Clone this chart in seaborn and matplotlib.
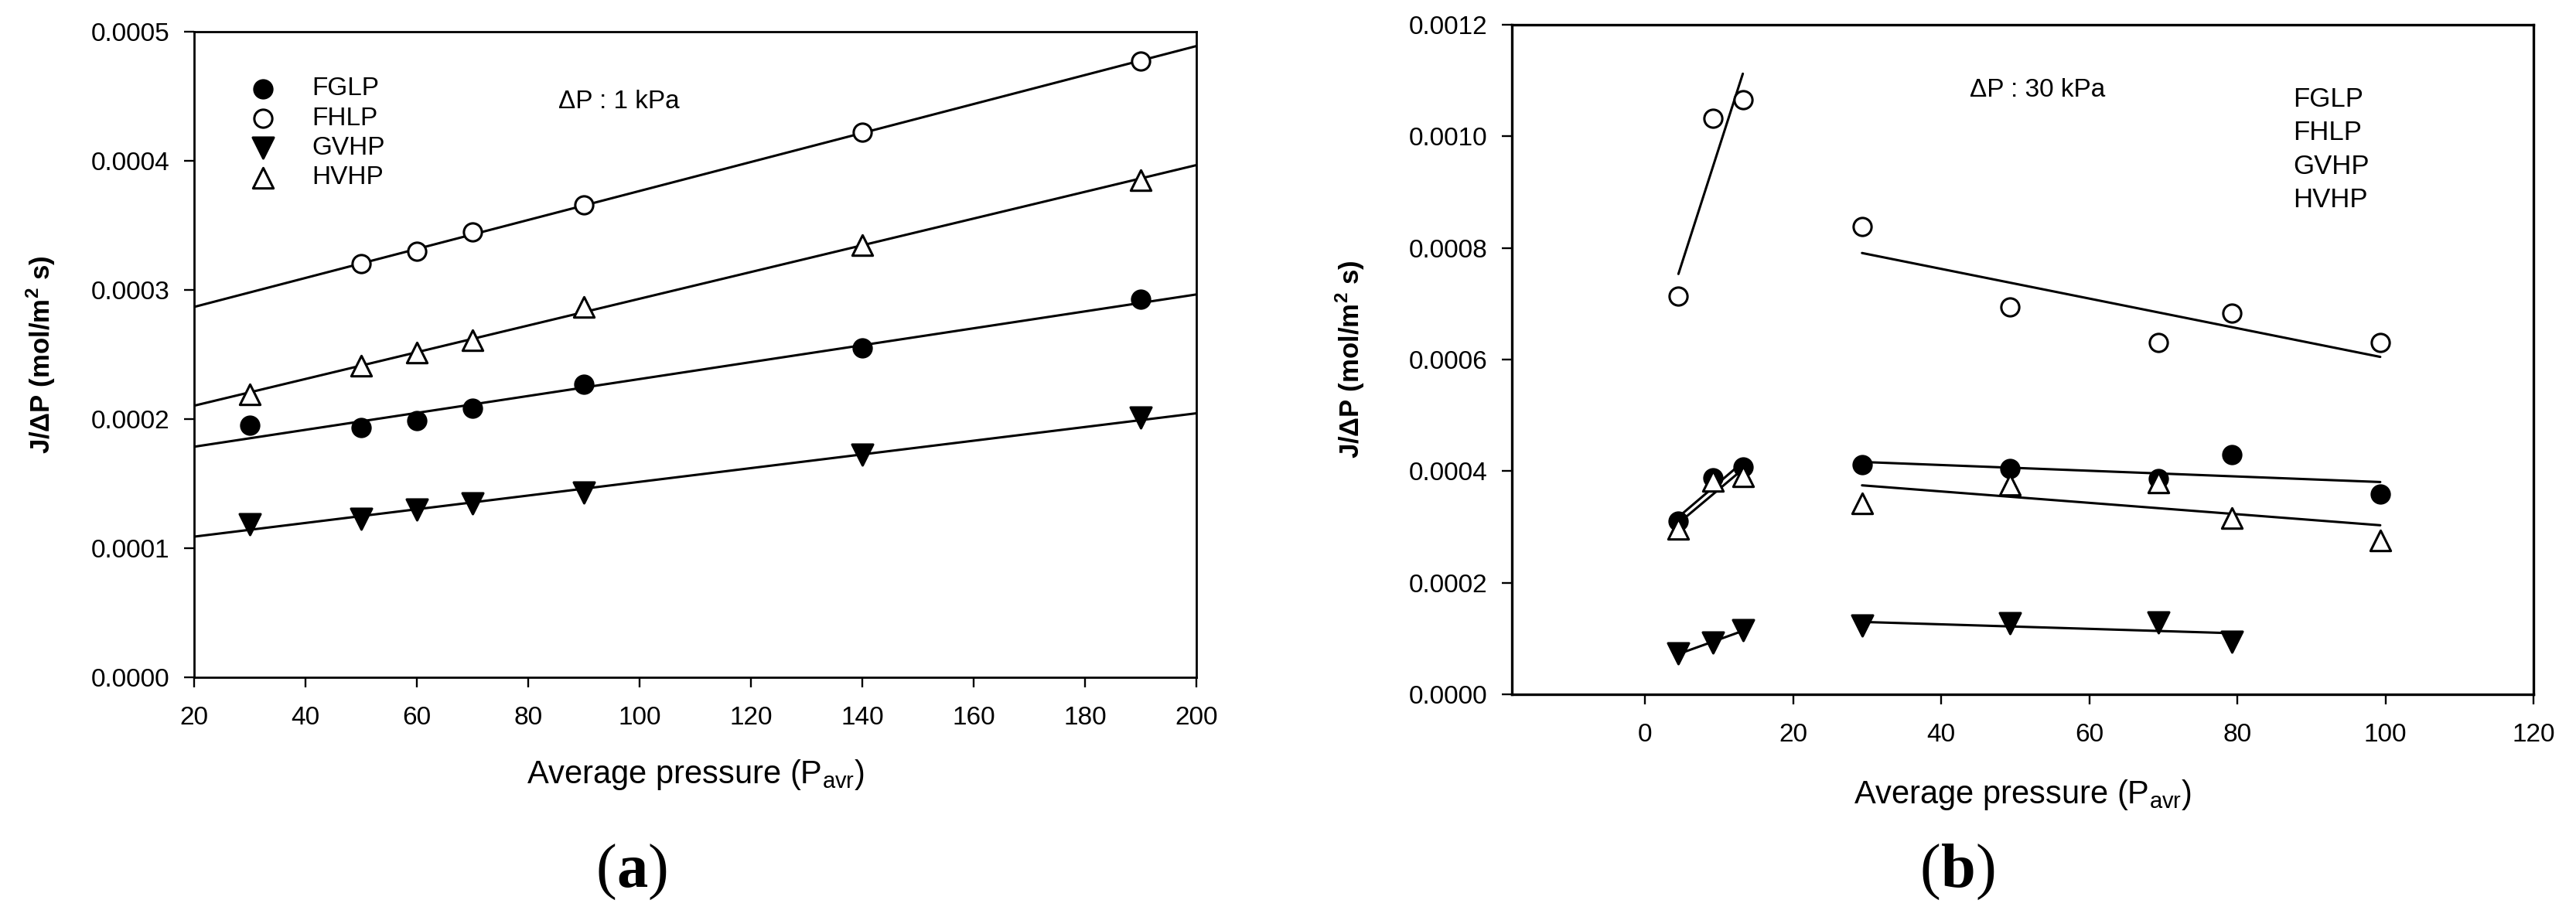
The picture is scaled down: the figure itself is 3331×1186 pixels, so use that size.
import numpy as np
import seaborn as sns
import matplotlib.pyplot as plt
from matplotlib.ticker import FormatStrFormatter, MultipleLocator
from matplotlib.offsetbox import TextArea, HPacker, AnchoredOffsetbox

# ---- panel (a): dP = 1 kPa ----
p_a = [30, 50, 60, 70, 90, 140, 190]
p_a_fhlp = [50, 60, 70, 90, 140, 190]
fglp_a = [0.0001952, 0.0001935, 0.000199, 0.0002086, 0.0002268, 0.0002553, 0.0002928]
fhlp_a = [0.0003206, 0.0003299, 0.0003447, 0.0003656, 0.000422, 0.0004773]
gvhp_a = [0.0001186, 0.0001227, 0.0001302, 0.0001347, 0.0001433, 0.0001722, 0.000201]
hvhp_a = [0.0002189, 0.0002416, 0.0002515, 0.0002612, 0.0002869, 0.000335, 0.0003849]

# ---- panel (b): dP = 30 kPa, two pressure regimes ----
p_b_low = [4.5, 9.2, 13.2]
p_b_high = [29.3, 49.3, 69.3, 79.3, 99.3]
p_b_high_gvhp = [29.3, 49.3, 69.3, 79.3]
fglp_b_low = [0.00031, 0.000388, 0.000407]
fglp_b_high = [0.000411, 0.000404, 0.000387, 0.000429, 0.000359]
fhlp_b_low = [0.000714, 0.001033, 0.001066]
fhlp_b_high = [0.000838, 0.000694, 0.000631, 0.000683, 0.00063]
gvhp_b_low = [0.0000733, 0.0000924, 0.000115]
gvhp_b_high = [0.000123, 0.000128, 0.000129, 0.0000948]
hvhp_b_low = [0.000296, 0.000382, 0.000391]
hvhp_b_high = [0.000342, 0.000375, 0.00038, 0.000316, 0.000276]

names = ["FGLP", "FHLP", "GVHP", "HVHP"]
styles = {
    "FGLP": dict(marker="o", face="black", s=70),
    "FHLP": dict(marker="o", face="white", s=70),
    "GVHP": dict(marker="v", face="black", s=95),
    "HVHP": dict(marker="^", face="white", s=90),
}

sns.set_style("ticks", {"axes.edgecolor": "black", "xtick.color": "black",
                        "ytick.color": "black", "text.color": "black",
                        "axes.labelcolor": "black"})
plt.rcParams['font.family'] = ['Liberation Sans', 'DejaVu Sans']
plt.rcParams['mathtext.fontset'] = 'custom'
plt.rcParams['mathtext.rm'] = 'Liberation Sans'
plt.rcParams['mathtext.bf'] = 'Liberation Sans:bold'


def draw(ax, x, y, name, truncate=True, label=None):
    st = styles[name]
    skw = dict(s=st["s"], facecolors=st["face"], edgecolors="black",
               linewidths=1.1, alpha=1, zorder=3)
    sns.regplot(x=np.array(x), y=np.array(y), ax=ax, ci=None, truncate=truncate,
                color="black", marker=st["marker"], label=label, scatter_kws=skw,
                line_kws=dict(lw=1.1, zorder=2))


def style_axes(ax, lw):
    for sp in ax.spines.values():
        sp.set_visible(True)
        sp.set_linewidth(lw)
    ax.tick_params(direction="out", length=4.7, width=0.85, labelsize=12)
    ax.tick_params(axis="x", pad=8.6)
    ax.tick_params(axis="y", pad=6.8)
    ax.yaxis.set_major_formatter(FormatStrFormatter("%.4f"))


def panel_tag(fig, letter, x, y):
    parts = [TextArea("(", textprops=dict(family="Liberation Serif", size=29)),
             TextArea(letter, textprops=dict(family="Liberation Serif", size=29,
                                             weight="bold")),
             TextArea(")", textprops=dict(family="Liberation Serif", size=29))]
    box = AnchoredOffsetbox(loc="center", child=HPacker(children=parts, pad=0, sep=0),
                            bbox_to_anchor=(x, y), bbox_transform=fig.transFigure,
                            frameon=False, pad=0, borderpad=0)
    fig.add_artist(box)


fig = plt.figure(figsize=(16.655, 5.93), dpi=200)
ax_a = fig.add_axes([0.0754, 0.2614, 0.3891, 0.7040])
ax_b = fig.add_axes([0.5869, 0.2428, 0.3966, 0.7302])

# (a)
ax_a.set_xlim(20, 200)
ax_a.set_ylim(0, 0.0005)
xs_a = {"FGLP": p_a, "FHLP": p_a_fhlp, "GVHP": p_a, "HVHP": p_a}
ys_a = {"FGLP": fglp_a, "FHLP": fhlp_a, "GVHP": gvhp_a, "HVHP": hvhp_a}
for n in names:
    draw(ax_a, xs_a[n], ys_a[n], n, truncate=False, label=n)
ax_a.xaxis.set_major_locator(MultipleLocator(20))
ax_a.yaxis.set_major_locator(MultipleLocator(0.0001))
style_axes(ax_a, 1.0)
ax_a.legend(loc="upper left", bbox_to_anchor=(0.0556, 0.93), frameon=False,
            fontsize=12, handlelength=1.0, handletextpad=1.4, labelspacing=0.22,
            borderpad=0, borderaxespad=0, scatterpoints=1)
ax_a.text(0.363, 0.892, "ΔP : 1 kPa", transform=ax_a.transAxes, fontsize=12,
          ha="left", va="center")

# (b)
ax_b.set_xlim(-18, 120)
ax_b.set_ylim(0, 0.0012)
low = {"FGLP": fglp_b_low, "FHLP": fhlp_b_low, "GVHP": gvhp_b_low, "HVHP": hvhp_b_low}
high = {"FGLP": fglp_b_high, "FHLP": fhlp_b_high, "GVHP": gvhp_b_high, "HVHP": hvhp_b_high}
for n in names:
    draw(ax_b, p_b_low, low[n], n)
    xh = p_b_high_gvhp if n == "GVHP" else p_b_high
    draw(ax_b, xh, high[n], n, label=n)
ax_b.set_xticks(range(0, 121, 20))
ax_b.yaxis.set_major_locator(MultipleLocator(0.0002))
style_axes(ax_b, 1.2)
leg = ax_b.legend(loc="upper left", bbox_to_anchor=(0.765, 0.908), frameon=False,
                  fontsize=12.5, handlelength=0, handletextpad=0, labelspacing=0.3,
                  borderpad=0, borderaxespad=0)
for h in leg.legend_handles:
    h.set_visible(False)
ax_b.text(0.448, 0.902, "ΔP : 30 kPa", transform=ax_b.transAxes, fontsize=12,
          ha="left", va="center")

ylab = r"J/ΔP (mol/m$^{\mathbf{2}}$ s)"
xlab = r"Average pressure (P$_{\mathrm{avr}}$)"
for ax, ylx in ((ax_a, -0.137), (ax_b, -0.142)):
    ax.set_ylabel(ylab, fontsize=12.5, fontweight="bold")
    ax.set_xlabel(xlab, fontsize=15)
    ax.yaxis.set_label_coords(ylx, 0.5)
    ax.xaxis.set_label_coords(0.5, -0.125)

panel_tag(fig, "a", 817 / 3331, 1 - 1128 / 1186)
panel_tag(fig, "b", 2532 / 3331, 1 - 1128 / 1186)

fig.savefig("out.png", dpi=200)
